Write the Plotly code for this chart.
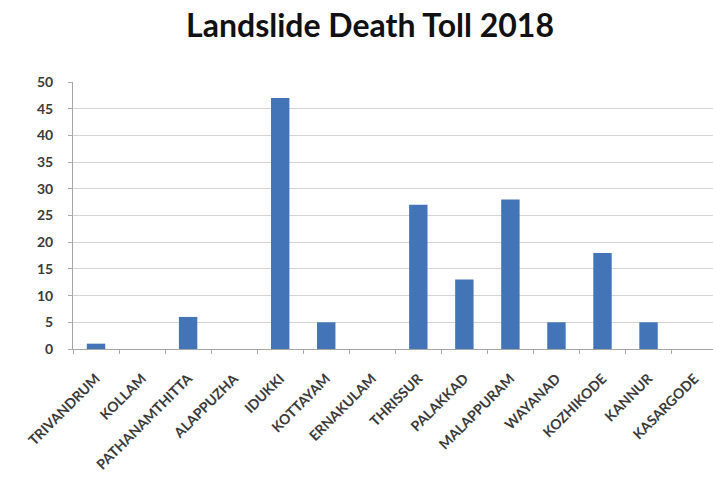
import plotly.graph_objects as go

# District-wise landslide deaths, Kerala 2018
districts = [
    "TRIVANDRUM", "KOLLAM", "PATHANAMTHITTA", "ALAPPUZHA", "IDUKKI",
    "KOTTAYAM", "ERNAKULAM", "THRISSUR", "PALAKKAD", "MALAPPURAM",
    "WAYANAD", "KOZHIKODE", "KANNUR", "KASARGODE",
]
deaths = [1, 0, 6, 0, 47, 5, 0, 27, 13, 28, 5, 18, 5, 0]
y_ticks = [0, 5, 10, 15, 20, 25, 30, 35, 40, 45, 50]

bar_color = "#4374B7"
axis_color = "#A6A6A6"
grid_color = "#D4D4D4"
label_color = "#3A3A3A"

fig = go.Figure(
    go.Bar(
        x=districts,
        y=deaths,
        marker=dict(color=bar_color, line=dict(width=0)),
        width=0.4,
    )
)

fig.update_layout(
    width=713,
    height=477,
    margin=dict(l=73, r=0, t=82, b=128),
    paper_bgcolor="white",
    plot_bgcolor="white",
    showlegend=False,
    title=dict(
        text="<b>Landslide Death Toll 2018</b>",
        x=0.519,
        xanchor="center",
        xref="container",
        y=0.945,
        yanchor="middle",
        yref="container",
        font=dict(family="Lato", size=32, color="#111111"),
    ),
    font=dict(family="Lato", color=label_color),
)

fig.update_xaxes(
    type="category",
    range=[-0.5, 13.4],
    tickangle=-45,
    tickfont=dict(family="Lato", size=14, color=label_color, weight="bold"),
    showline=True,
    linecolor=axis_color,
    linewidth=1,
    ticks="outside",
    tickson="boundaries",
    ticklen=4,
    tickcolor=axis_color,
    showgrid=False,
    ticklabelstandoff=15,
)

fig.update_yaxes(
    range=[0, 50],
    tickvals=y_ticks,
    tickfont=dict(family="Lato", size=14, color=label_color, weight="bold"),
    showline=True,
    linecolor=axis_color,
    linewidth=1,
    ticks="outside",
    ticklen=4,
    tickcolor=axis_color,
    showgrid=True,
    gridcolor=grid_color,
    gridwidth=1,
    zeroline=False,
    ticklabelstandoff=12,
)

fig.write_html("out.html")
